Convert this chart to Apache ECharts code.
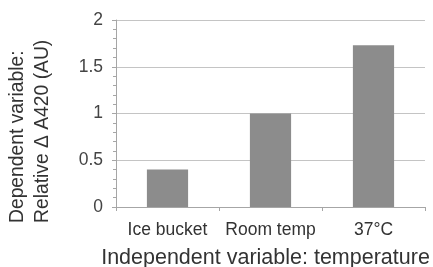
<!DOCTYPE html>
<html><head><meta charset="utf-8">
<script src="https://cdn.jsdelivr.net/npm/echarts@6/dist/echarts.min.js"></script>
<style>html,body{margin:0;padding:0;background:#fff}#c{width:433px;height:267px}</style>
</head><body><div id="c"></div>
<script>
const categories = ['Ice bucket', 'Room temp', '37°C'];
const values = [0.4, 1.0, 1.73];
const yTicks = [0, 0.5, 1, 1.5, 2];
const xName = 'Independent variable: temperature';
const yNameLines = ['Dependent variable:', 'Relative \u0394 A420 (AU)'];

const chart = echarts.init(document.getElementById('c'), null, {renderer: 'canvas'});
const font = 'Liberation Sans, Arial, sans-serif';
chart.setOption({
  animation: false,
  grid: {left: 116, right: 8, top: 20, bottom: 60, outerBoundsMode: 'none', containLabel: false},
  xAxis: {
    type: 'category', data: categories, boundaryGap: true,
    name: xName, nameLocation: 'middle', nameGap: 40,
    nameTextStyle: {fontFamily: font, fontSize: 21.5, color: '#333', padding: [0, 10, 0, 0]},
    axisLine: {lineStyle: {color: '#a6a6a6'}},
    axisTick: {show: true, length: 4, lineStyle: {color: '#a6a6a6'}},
    axisLabel: {fontFamily: font, fontSize: 17.5, color: '#333', margin: 14, interval: 0, hideOverlap: false}
  },
  yAxis: {
    type: 'value', min: yTicks[0], max: yTicks[yTicks.length - 1], interval: 0.5,
    axisLine: {show: true, lineStyle: {color: '#a6a6a6'}},
    axisTick: {show: true, length: 4, lineStyle: {color: '#a6a6a6'}},
    minorTick: {show: true, splitNumber: 5, length: 3, lineStyle: {color: '#a6a6a6'}},
    splitLine: {lineStyle: {color: '#c4c4c4'}},
    axisLabel: {fontFamily: font, fontSize: 17.5, color: '#444', margin: 13}
  },
  graphic: [{
    type: 'text', x: 5, y: 223, rotation: Math.PI / 2,
    style: {text: yNameLines.join('\n'), fontFamily: font, fontSize: 19.3, fill: '#333',
      textAlign: 'left', textVerticalAlign: 'top', lineHeight: 25}
  }],
  series: [{
    type: 'bar', data: values, barWidth: '40%',
    itemStyle: {color: '#8c8c8c'}
  }]
});
</script></body></html>
